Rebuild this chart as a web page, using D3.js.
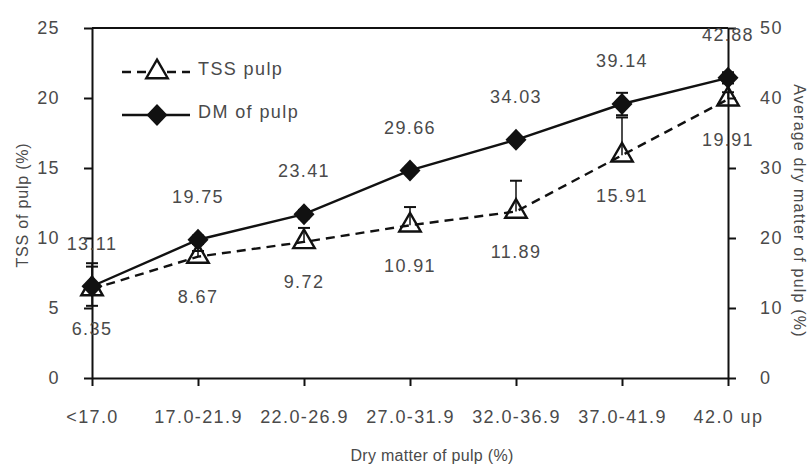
<!DOCTYPE html>
<html><head><meta charset="utf-8">
<script src="https://cdn.jsdelivr.net/npm/d3@7/dist/d3.min.js"></script>
<style>body{margin:0;background:#fff;} text{font-family:"Liberation Sans",Arial,sans-serif;}</style>
</head><body><svg id="c" width="812" height="468"></svg>
<script>
const categories = ["<17.0","17.0-21.9","22.0-26.9","27.0-31.9","32.0-36.9","37.0-41.9","42.0 up"];
const tssValues = [6.35, 8.67, 9.72, 10.91, 11.89, 15.91, 19.91];
const tssErr = [1.85, 0.4, 1.0, 1.3, 2.2, 2.7, 0.5];
const dmValues = [13.11, 19.75, 23.41, 29.66, 34.03, 39.14, 42.88];
const dmErr = [2.8, 0.6, 0.6, 0.5, 0.5, 1.6, 0.8];
const leftTicks = [0, 5, 10, 15, 20, 25];
const rightTicks = [0, 10, 20, 30, 40, 50];

const svg = d3.select("#c");
const m = {l: 92, r: 84, t: 28, b: 90};
const W = 812, H = 468;
const x = d3.scalePoint().domain(categories).range([m.l, W - m.r]);
const yL = d3.scaleLinear().domain([0, 25]).range([H - m.b, m.t]);
const yR = d3.scaleLinear().domain([0, 50]).range([H - m.b, m.t]);
const txt = "#4a4a4a";
const fs = "18px", ls = "1.4px";
const tfs = "16px";

function big(sel) {
  return sel.attr("fill", txt).style("font-size", fs).style("letter-spacing", ls)
    .style("font-family", '"Liberation Sans",Arial,sans-serif');
}

svg.append("line").attr("x1", m.l).attr("x2", W - m.r).attr("y1", m.t).attr("y2", m.t)
  .attr("stroke", "#111").attr("stroke-width", 2);

function styleAxis(g) {
  g.select(".domain").attr("stroke", "#111").attr("stroke-width", 2);
  g.selectAll(".tick line").attr("stroke", "#111").attr("stroke-width", 2);
  big(g.selectAll(".tick text"));
}
svg.append("g").attr("transform", `translate(0,${H - m.b})`)
  .call(d3.axisBottom(x).tickSize(8).tickSizeOuter(0).tickPadding(24))
  .call(styleAxis);
svg.append("g").attr("transform", `translate(${m.l},0)`)
  .call(d3.axisLeft(yL).tickValues(leftTicks).tickSize(8).tickSizeOuter(0).tickPadding(24))
  .call(styleAxis);
svg.append("g").attr("transform", `translate(${W - m.r},0)`)
  .call(d3.axisRight(yR).tickValues(rightTicks).tickSize(8).tickSizeOuter(0).tickPadding(24))
  .call(styleAxis);

// axis titles
svg.append("text").attr("transform", `translate(28,205) rotate(-90)`)
  .attr("text-anchor", "middle").attr("fill", txt).style("font-size", tfs).style("letter-spacing", "0.8px").text("TSS of pulp (%)");
svg.append("text").attr("transform", `translate(794,211) rotate(90)`)
  .attr("text-anchor", "middle").attr("fill", txt).style("font-size", tfs).style("letter-spacing", "1.2px").text("Average dry matter of pulp (%)");
svg.append("text").attr("x", 432).attr("y", 461)
  .attr("text-anchor", "middle").attr("fill", txt).style("font-size", tfs).style("letter-spacing", "0.3px").text("Dry matter of pulp (%)");

const tri = d3.symbol().type(d3.symbolTriangle).size(200);
const diamondType = {draw(ctx, size) {
  const w = 10.5, h = 11;
  ctx.moveTo(0, -h); ctx.lineTo(w, 0); ctx.lineTo(0, h); ctx.lineTo(-w, 0); ctx.closePath();
}};
const dia = d3.symbol().type(diamondType);

const cap = 6;
tssValues.forEach((v, i) => {
  const cx = x(categories[i]);
  svg.append("line").attr("x1", cx).attr("x2", cx).attr("y1", yL(v)).attr("y2", yL(v + tssErr[i]))
    .attr("stroke", "#111").attr("stroke-width", 1.5);
  svg.append("line").attr("x1", cx - cap).attr("x2", cx + cap).attr("y1", yL(v + tssErr[i])).attr("y2", yL(v + tssErr[i]))
    .attr("stroke", "#111").attr("stroke-width", 2);
});
dmValues.forEach((v, i) => {
  const cx = x(categories[i]);
  svg.append("line").attr("x1", cx).attr("x2", cx).attr("y1", yR(v - dmErr[i])).attr("y2", yR(v + dmErr[i]))
    .attr("stroke", "#111").attr("stroke-width", 1.5);
  [v - dmErr[i], v + dmErr[i]].forEach(e => {
    svg.append("line").attr("x1", cx - cap).attr("x2", cx + cap).attr("y1", yR(e)).attr("y2", yR(e))
      .attr("stroke", "#111").attr("stroke-width", 2);
  });
});

const lineL = d3.line().x((d, i) => x(categories[i])).y(d => yL(d));
svg.append("path").datum(tssValues).attr("d", lineL).attr("fill", "none")
  .attr("stroke", "#111").attr("stroke-width", 2.4).attr("stroke-dasharray", "9,6");
svg.selectAll(".tri").data(tssValues).enter().append("path")
  .attr("d", tri).attr("transform", (d, i) => `translate(${x(categories[i])},${yL(d)})`)
  .attr("fill", "none").attr("stroke", "#111").attr("stroke-width", 2.4);

const lineR = d3.line().x((d, i) => x(categories[i])).y(d => yR(d));
svg.append("path").datum(dmValues).attr("d", lineR).attr("fill", "none")
  .attr("stroke", "#111").attr("stroke-width", 2.4);
svg.selectAll(".dia").data(dmValues).enter().append("path")
  .attr("d", dia).attr("transform", (d, i) => `translate(${x(categories[i])},${yR(d)})`)
  .attr("fill", "#111");

big(svg.selectAll(".dml").data(dmValues).enter().append("text")
  .attr("x", (d, i) => x(categories[i])).attr("y", d => yR(d) - 43)
  .attr("dy", "0.35em").attr("text-anchor", "middle"))
  .text(d => d.toFixed(2));
big(svg.selectAll(".tssl").data(tssValues).enter().append("text")
  .attr("x", (d, i) => x(categories[i])).attr("y", d => yL(d) + 40)
  .attr("dy", "0.35em").attr("text-anchor", "middle"))
  .text(d => d.toFixed(2));

const lg = svg.append("g");
lg.append("line").attr("x1", 122).attr("x2", 190).attr("y1", 72).attr("y2", 72)
  .attr("stroke", "#111").attr("stroke-width", 2.4).attr("stroke-dasharray", "9,6");
lg.append("path").attr("d", tri).attr("transform", "translate(157,72)")
  .attr("fill", "#fff").attr("stroke", "#111").attr("stroke-width", 2.4);
big(lg.append("text").attr("x", 198).attr("y", 69).attr("dy", "0.35em")).text("TSS pulp");
lg.append("line").attr("x1", 122).attr("x2", 190).attr("y1", 115).attr("y2", 115)
  .attr("stroke", "#111").attr("stroke-width", 2.4);
lg.append("path").attr("d", dia).attr("transform", "translate(157,115)").attr("fill", "#111");
big(lg.append("text").attr("x", 198).attr("y", 112).attr("dy", "0.35em")).text("DM of pulp");
</script></body></html>
